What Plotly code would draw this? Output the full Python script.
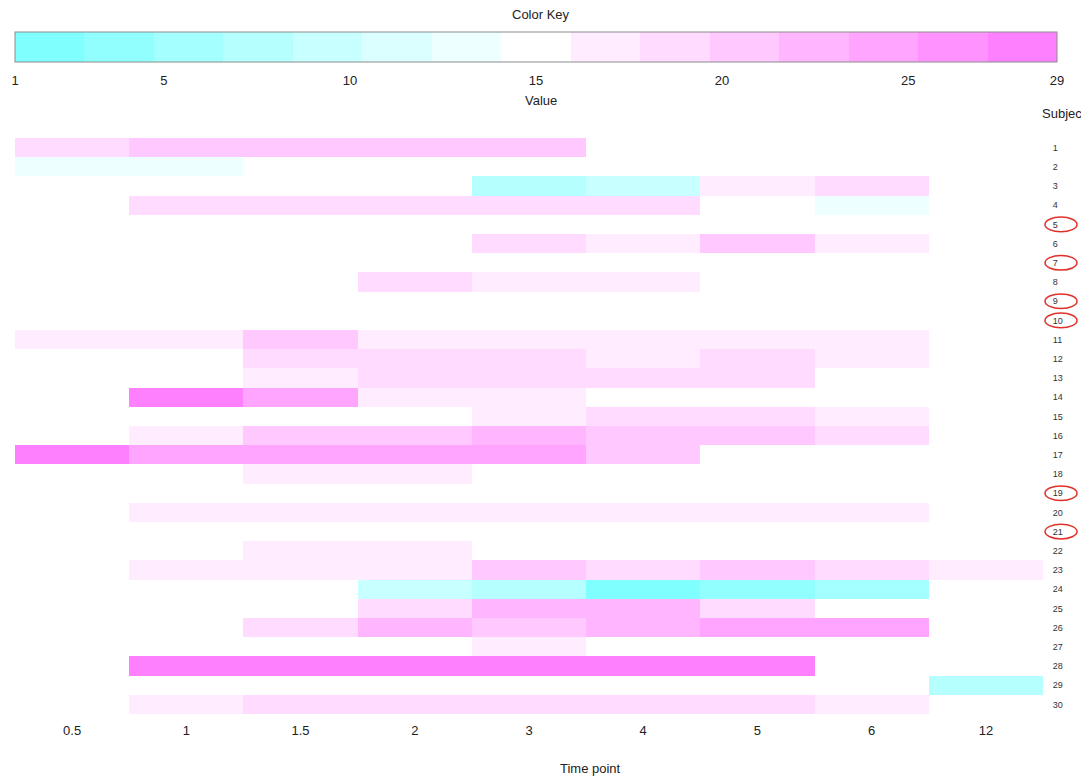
import colorsys
import plotly.graph_objects as go

# ---------------- data ----------------
time_points = ["0.5", "1", "1.5", "2", "3", "4", "5", "6", "12"]
subjects = list(range(1, 31))
N = None
values = [
    [19, 21, 21, 21, 21, N, N, N, N],   # 1
    [13, 13, N, N, N, N, N, N, N],      # 2
    [N, N, N, N, 8, 9, 17, 19, N],      # 3
    [N, 19, 19, 19, 19, 19, N, 13, N],  # 4
    [N, N, N, N, N, N, N, N, N],        # 5
    [N, N, N, N, 19, 17, 21, 17, N],    # 6
    [N, N, N, N, N, N, N, N, N],        # 7
    [N, N, N, 19, 17, 17, N, N, N],     # 8
    [N, N, N, N, N, N, N, N, N],        # 9
    [N, N, N, N, N, N, N, N, N],        # 10
    [17, 17, 21, 17, 17, 17, 17, 17, N],  # 11
    [N, N, 19, 19, 19, 17, 19, 17, N],  # 12
    [N, N, 17, 19, 19, 19, 19, N, N],   # 13
    [N, 29, 24, 17, 17, N, N, N, N],    # 14
    [N, N, N, N, 17, 19, 19, 17, N],    # 15
    [N, 17, 21, 21, 22, 21, 21, 19, N],  # 16
    [29, 24, 24, 24, 24, 21, N, N, N],  # 17
    [N, N, 17, 17, N, N, N, N, N],      # 18
    [N, N, N, N, N, N, N, N, N],        # 19
    [N, 17, 17, 17, 17, 17, 17, 17, N],  # 20
    [N, N, N, N, N, N, N, N, N],        # 21
    [N, N, 17, 17, N, N, N, N, N],      # 22
    [N, 17, 17, 17, 21, 19, 21, 19, 17],  # 23
    [N, N, N, 9, 8, 1, 4, 6, N],        # 24
    [N, N, N, 19, 22, 22, 19, N, N],    # 25
    [N, N, 19, 22, 21, 22, 24, 24, N],  # 26
    [N, N, N, N, 17, N, N, N, N],       # 27
    [N, 29, 29, 29, 29, 29, 29, N, N],  # 28
    [N, N, N, N, N, N, N, N, 8],        # 29
    [N, 17, 19, 19, 19, 19, 19, 17, N],  # 30
]
circled_subjects = [5, 7, 9, 10, 19, 21]
key_ticks = [1, 5, 10, 15, 20, 25, 29]
zmin, zmax = 1, 29

# ---------------- style ----------------
OFF = 8                      # page body margin of the browser
W, H = 1089 - OFF, 778 - OFF
L, R, T, B = 15, 1043, 138, 714   # plot area in reference pixels
FONT = "Liberation Sans, Arial, sans-serif"


def px_x(px):
    return (px - L) / (R - L)


def px_y(py):
    return (B - py) / (B - T)


# cm.colors(15): cyan -> white -> magenta, discrete steps
n_bins = 15
k = n_bins // 2
cols = []
for i in range(k + 1):
    s = 0.5 - 0.5 * i / k
    cols.append(colorsys.hsv_to_rgb(6 / 12, s, 1))
for i in range(1, k + 1):
    s = 0.5 * i / k
    cols.append(colorsys.hsv_to_rgb(10 / 12, s, 1))
hexcols = ["rgb(%d,%d,%d)" % (round(r * 255), round(g * 255), round(b * 255)) for r, g, b in cols]
colorscale = []
for i, c in enumerate(hexcols):
    colorscale.append([i / n_bins, c])
    colorscale.append([(i + 1) / n_bins, c])

fig = go.Figure()
fig.add_trace(go.Heatmap(
    z=values,
    x=time_points,
    y=subjects,
    zmin=zmin, zmax=zmax,
    colorscale=colorscale,
    hoverongaps=False,
    colorbar=dict(
        orientation="h",
        x=px_x(536), xanchor="center",
        y=px_y(32), yanchor="top",
        lenmode="pixels", len=1042,
        thicknessmode="pixels", thickness=30,
        xpad=0, ypad=0,
        outlinewidth=1, outlinecolor="#8c8c8c",
        tickvals=key_ticks,
        ticks="outside", ticklen=7, tickcolor="rgba(0,0,0,0)",
        tickfont=dict(family=FONT, size=13, color="#222"),
    ),
))

shapes = []
for s in circled_subjects:
    shapes.append(dict(
        type="circle", xref="paper", yref="y",
        x0=px_x(1045), x1=px_x(1077), y0=s - 0.38, y1=s + 0.38,
        line=dict(color="#e0302a", width=1.5),
    ))

annotations = [
    dict(text="Color Key", x=px_x(541), y=px_y(14), xref="paper", yref="paper",
         xanchor="center", yanchor="middle",
         showarrow=False, font=dict(family=FONT, size=13, color="#222")),
    dict(text="Value", x=px_x(541), y=px_y(101), xref="paper", yref="paper",
         xanchor="center", yanchor="middle",
         showarrow=False, font=dict(family=FONT, size=13, color="#222")),
    dict(text="Subject", x=px_x(1088), y=px_y(114), xref="paper", yref="paper",
         xanchor="right", yanchor="middle",
         showarrow=False, font=dict(family=FONT, size=13, color="#222")),
    dict(text="Time point", x=px_x(590), y=px_y(768), xref="paper", yref="paper",
         xanchor="center", yanchor="middle",
         showarrow=False, font=dict(family=FONT, size=13, color="#222")),
]

fig.update_layout(
    width=W, height=H, autosize=False,
    margin=dict(l=L - OFF, r=W - (R - OFF), t=T - OFF, b=H - (B - OFF), pad=0, autoexpand=False),
    paper_bgcolor="white", plot_bgcolor="white",
    shapes=shapes, annotations=annotations,
    font=dict(family=FONT),
)
fig.update_xaxes(
    type="category", showgrid=False, zeroline=False, showline=False,
    ticks="outside", ticklen=4, tickcolor="rgba(0,0,0,0)",
    tickfont=dict(family=FONT, size=13, color="#222"), automargin=False,
)
fig.update_yaxes(
    range=[30.5, 0.5], side="right", showgrid=False, zeroline=False, showline=False,
    tickvals=subjects, ticktext=[str(s) for s in subjects],
    ticks="outside", ticklen=7, tickcolor="rgba(0,0,0,0)",
    tickfont=dict(family=FONT, size=9, color="#333"), automargin=False,
)

fig.write_html("out.html")
